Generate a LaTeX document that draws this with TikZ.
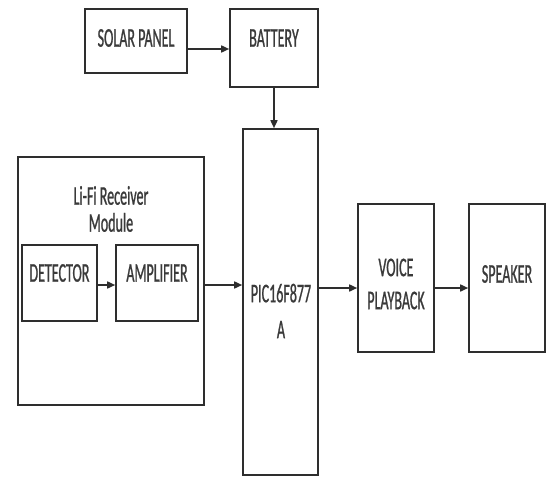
\documentclass[tikz,border=0pt]{standalone}
\usepackage{fontspec}
\newfontfamily\condfont[FakeStretch=0.52,FakeBold=0.8]{Carlito}
\usetikzlibrary{arrows.meta}
\definecolor{ink}{HTML}{2E2E2E}
\definecolor{txtc}{HTML}{3A3A3A}
\tikzset{
  blk/.style={draw=ink, line width=1.6pt, inner sep=0pt, fill=white},
  txt/.style={text=txtc, font=\condfont\fontsize{27}{30}\selectfont, align=center, inner sep=0pt},
  arr/.style={draw=ink, line width=1.6pt, -{Triangle[length=8pt,width=7pt]}},
}
\begin{document}
\begin{tikzpicture}[x=1pt,y=-1pt]
\useasboundingbox (0,0) rectangle (549,477);
% boxes
\node[blk, minimum width=102, minimum height=64] (sol) at (136,41) {};
\node[blk, minimum width=88, minimum height=78] (bat) at (274,48) {};
\node[blk, minimum width=75, minimum height=346] (pic) at (280.5,302) {};
\node[blk, minimum width=186, minimum height=248] (lifi) at (111,281) {};
\node[blk, minimum width=75, minimum height=76] (det) at (59.5,283) {};
\node[blk, minimum width=82, minimum height=76] (amp) at (157,283) {};
\node[blk, minimum width=76, minimum height=148] (voice) at (396,278) {};
\node[blk, minimum width=76, minimum height=148] (spk) at (507,278) {};
% texts
\node[txt] (tsol) at (136,38) {SOLAR PANEL};
\node[txt] (tbat) at (274,38) {BATTERY};
\node[txt] (tlifi) at (111,209) {Li-Fi Receiver\\[-3pt]Module};
\node[txt] (tdet) at (59.5,273) {DETECTOR};
\node[txt] (tamp) at (157,273) {AMPLIFIER};
\node[txt] (tpic) at (281,311) {PIC16F877\\[6pt]A};
\node[txt] (tvoice) at (396,284) {VOICE\\[3pt]PLAYBACK};
\node[txt] (tspk) at (507,274) {SPEAKER};
% connectors
\draw[arr] (sol.east |- 0,49) -- (bat.west |- 0,49);
\draw[arr] (bat.south -| 274,0) -- (pic.north -| 274,0);
\draw[arr] (det.east |- 0,285) -- (amp.west |- 0,285);
\draw[arr] (lifi.east |- 0,285) -- (pic.west |- 0,285);
\draw[arr] (pic.east |- 0,288) -- (voice.west |- 0,288);
\draw[arr] (voice.east |- 0,288) -- (spk.west |- 0,288);
\end{tikzpicture}
\end{document}
